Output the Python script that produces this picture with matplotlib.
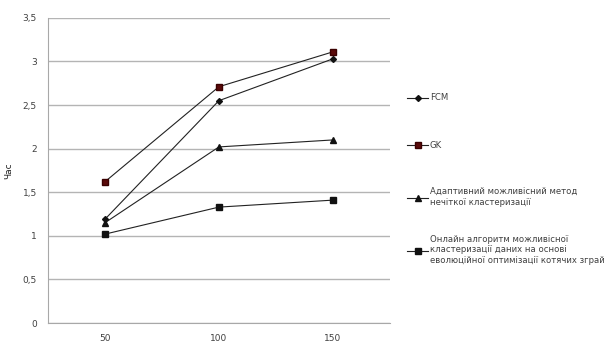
import matplotlib
matplotlib.use("Agg")
import matplotlib.pyplot as plt

categories = ["50", "100", "150"]
fcm = [1.19, 2.55, 3.03]
gk = [1.62, 2.71, 3.11]
adaptive = [1.15, 2.02, 2.10]
online = [1.02, 1.33, 1.41]
labels = ["FCM", "GK",
          "Адаптивний можливісний метод\nнечіткої кластеризації",
          "Онлайн алгоритм можливісної\nкластеризації даних на основі\nеволюційної оптимізації котячих зграй"]
yticks = [0, 0.5, 1, 1.5, 2, 2.5, 3, 3.5]
ytick_labels = ["0", "0,5", "1", "1,5", "2", "2,5", "3", "3,5"]

plt.rcParams['font.family'] = ['DejaVu Sans']
fig = plt.figure(figsize=(6.14, 3.43), dpi=100)
ax = fig.add_axes([0.078, 0.058, 0.557, 0.89])

x = list(range(len(categories)))
styles = [
    dict(marker="D", markersize=3, color="#222222", mfc="#111111", mec="#111111"),
    dict(marker="s", markersize=4, color="#222222", mfc="#5a0a0a", mec="#3a0000"),
    dict(marker="^", markersize=4, color="#222222", mfc="#111111", mec="#111111"),
    dict(marker="s", markersize=4, color="#222222", mfc="#111111", mec="#111111"),
]
series = [fcm, gk, adaptive, online]
handles = []
for s, st, lab in zip(series, styles, labels):
    h, = ax.plot(x, s, lw=0.8, label=lab, **st)
    handles.append(h)

ax.set_xlim(-0.5, 2.5)
ax.set_ylim(0, 3.5)
ax.set_xticks(x)
ax.set_xticklabels(categories)
ax.set_yticks(yticks)
ax.set_yticklabels(ytick_labels)
ax.tick_params(length=0, labelsize=6.5, colors="#404040", pad=8)
ax.yaxis.grid(True, color="#b4b4b4", lw=1)
ax.set_axisbelow(True)
for sp in ["top", "right"]:
    ax.spines[sp].set_visible(False)
for sp in ["left", "bottom"]:
    ax.spines[sp].set_color("#a8a8a8")
ax.set_ylabel("Час", fontsize=6.5, color="#202020", labelpad=7)

# legends positioned individually (y in figure pixels from top)
ypos = [98, 145, 197, 250]
for h, lab, yp in zip(handles, labels, ypos):
    fig.legend([h], [lab], loc="center left",
               bbox_to_anchor=(407 / 614, 1 - yp / 343),
               frameon=False, fontsize=6.1, handlelength=2.5,
               handletextpad=0.2, borderpad=0, borderaxespad=0,
               labelcolor="#404040", labelspacing=0.3)

fig.savefig("out.png", dpi=100)
